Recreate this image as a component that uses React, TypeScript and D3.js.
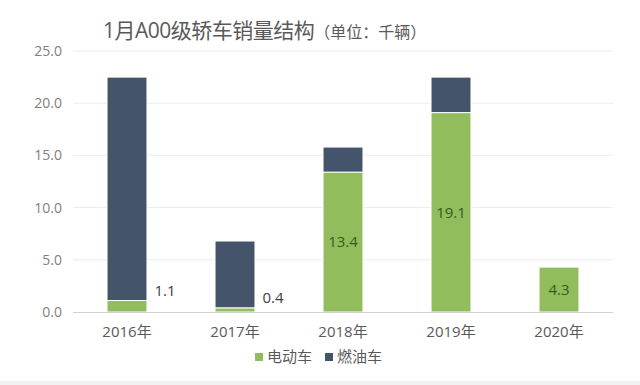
import React, { useRef, useEffect } from 'react';
import * as d3 from 'd3';

const years = ['2016年', '2017年', '2018年', '2019年', '2020年'];
const electric = [1.1, 0.4, 13.4, 19.1, 4.3];
const fuel = [21.4, 6.4, 2.4, 3.4, 0];
const yTicks = [0, 5, 10, 15, 20, 25];
const seriesNames = ['电动车', '燃油车'];

const GREEN = '#92bd5c';
const DARK = '#44546a';
const FONT = "'Open Sans', 'Noto Sans CJK SC', sans-serif";

const App: React.FC = () => {
    const svgRef = useRef<SVGSVGElement>(null);
    const width = 640;
    const height = 385;

    useEffect(() => {
        if (!svgRef.current) return;
        const svg = d3.select(svgRef.current);
        svg.selectAll('*').remove();

        const margin = { top: 51, right: 27, bottom: 73, left: 73 };
        const innerWidth = width - margin.left - margin.right;
        const innerHeight = height - margin.top - margin.bottom;

        svg.append('rect').attr('width', width).attr('height', height).attr('fill', '#fff');

        // Title
        const title = svg.append('text')
            .attr('x', 103)
            .attr('y', 38)
            .attr('fill', '#595959')
            .attr('font-family', FONT);
        title.append('tspan').attr('font-size', '21px').attr('letter-spacing', '-0.5px').text('1月A00级轿车销量结构');
        title.append('tspan').attr('font-size', '16px').text('（单位：千辆）');

        const g = svg.append('g').attr('transform', `translate(${margin.left},${margin.top})`);

        const x = d3.scaleBand<string>().domain(years).range([0, innerWidth]).paddingInner(0.63).paddingOuter(0.315);
        const y = d3.scaleLinear().domain([0, 25]).range([innerHeight, 0]);

        // Grid
        g.append('g')
            .selectAll('line')
            .data(yTicks.slice(1))
            .join('line')
            .attr('x1', 0)
            .attr('x2', innerWidth)
            .attr('y1', d => y(d))
            .attr('y2', d => y(d))
            .attr('stroke', '#ececec')
            .attr('stroke-width', 1);

        // Y labels
        g.append('g')
            .selectAll('text')
            .data(yTicks)
            .join('text')
            .attr('x', -11)
            .attr('y', d => y(d))
            .attr('dy', '0.35em')
            .attr('text-anchor', 'end')
            .attr('font-family', FONT)
            .attr('font-size', '14px')
            .attr('fill', '#808080')
            .text(d => d3.format('.1f')(d));

        // Stacked bars
        const stackData = years.map((yr, i) => ({ year: yr, e: electric[i], f: fuel[i] }));
        const stack = d3.stack<any>().keys(['e', 'f'])(stackData);
        const colors = [GREEN, DARK];

        stack.forEach((layer, li) => {
            g.append('g')
                .selectAll('rect')
                .data(layer.filter(d => d[1] - d[0] > 0))
                .join('rect')
                .attr('x', d => x(d.data.year)!)
                .attr('width', x.bandwidth())
                .attr('y', d => y(d[1]))
                .attr('height', d => y(d[0]) - y(d[1]))
                .attr('fill', colors[li])
                .attr('stroke', '#fff')
                .attr('stroke-width', 1);
        });

        // Axis line
        g.append('line')
            .attr('x1', 0)
            .attr('x2', innerWidth)
            .attr('y1', innerHeight + 0.5)
            .attr('y2', innerHeight + 0.5)
            .attr('stroke', '#d0d0d0')
            .attr('stroke-width', 1);

        // X labels
        g.append('g')
            .selectAll('text')
            .data(years)
            .join('text')
            .attr('x', d => x(d)! + x.bandwidth() / 2)
            .attr('y', innerHeight + 20)
            .attr('dy', '0.35em')
            .attr('text-anchor', 'middle')
            .attr('font-family', FONT)
            .attr('font-size', '15px')
            .attr('fill', '#595959')
            .text(d => d);

        // Data labels for electric
        electric.forEach((v, i) => {
            const inside = v > 3;
            const cx = x(years[i])! + x.bandwidth() / 2;
            g.append('text')
                .attr('x', inside ? cx : x(years[i])! + x.bandwidth() + 18)
                .attr('y', inside ? (y(0) + y(v)) / 2 : y(v) - 10)
                .attr('dy', '0.35em')
                .attr('text-anchor', 'middle')
                .attr('font-family', FONT)
                .attr('font-size', '15px')
                .attr('fill', inside ? '#3a5a1c' : '#404040')
                .text(v.toFixed(1));
        });

        // Legend
        const legend = svg.append('g').attr('transform', `translate(0,357)`);
        const legendX = [255, 325];
        seriesNames.forEach((name, i) => {
            legend.append('rect')
                .attr('x', legendX[i])
                .attr('y', -4)
                .attr('width', 8)
                .attr('height', 8)
                .attr('fill', colors[i]);
            legend.append('text')
                .attr('x', legendX[i] + 12)
                .attr('y', 0)
                .attr('dy', '0.35em')
                .attr('font-family', FONT)
                .attr('font-size', '15px')
                .attr('fill', '#595959')
                .text(name);
        });

        // Bottom edge
        svg.append('rect').attr('x', 0).attr('y', 381).attr('width', width).attr('height', 4).attr('fill', '#f2f2f2');
    }, []);

    return (
        <svg
            ref={svgRef}
            width={width}
            height={height}
            style={{ position: 'absolute', left: 0, top: 0 }}
        />
    );
};

export default App;
